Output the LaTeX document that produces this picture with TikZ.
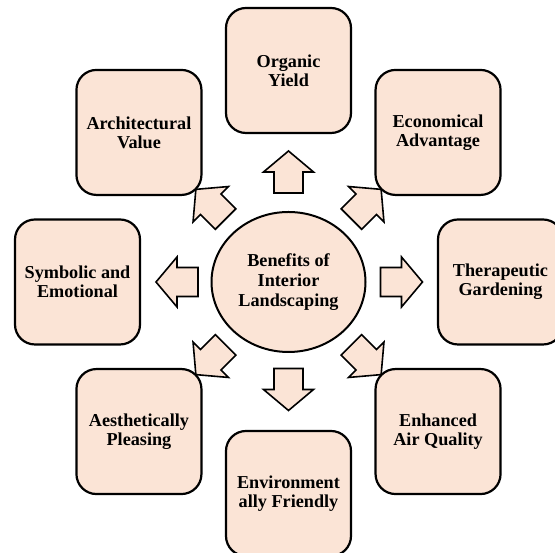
\documentclass[tikz,border=0pt]{standalone}
\usepackage{fontspec}
\setmainfont{Liberation Serif}
\usetikzlibrary{shapes.geometric,calc}
\definecolor{peach}{HTML}{FBE4D6}
\tikzset{
  benefit/.style={draw=black, line width=2.2pt, fill=peach, rounded corners=20pt,
    minimum width=125pt, minimum height=125pt, inner sep=0pt, align=center,
    font=\bfseries\fontsize{18.2}{19}\selectfont},
  hub/.style={draw=black, line width=2pt, fill=peach, ellipse,
    minimum width=154pt, minimum height=140pt, inner sep=0pt, align=center,
    font=\bfseries\fontsize{18.2}{20}\selectfont},
  blockarrow/.pic={
    \draw[line width=1.6pt, fill=peach, line join=miter]
      (-21,-14.5) -- (0,-14.5) -- (0,-25) -- (21,0) -- (0,25) -- (0,14.5) -- (-21,14.5) -- cycle;
  }
}
\begin{document}
\begin{tikzpicture}[x=1pt, y=1pt]
  \useasboundingbox (0,0) rectangle (555,553);
  \coordinate (C) at (288.5,271);
  \node[hub] (hub) at (C) {Benefits of\\Interior\\Landscaping};
  \node[benefit] (org) at ($(C)+(90:211.5)$) {Organic\\Yield};
  \node[benefit] (eco) at ($(C)+(45:211.5)$) {Economical\\Advantage};
  \node[benefit] (the) at ($(C)+(0:212)$) {Therapeutic\\Gardening};
  \node[benefit] (air) at ($(C)+(-45:211.5)$) {Enhanced\\Air Quality};
  \node[benefit] (env) at ($(C)+(-90:211.5)$) {Environment\\ally Friendly};
  \node[benefit] (aes) at ($(C)+(-135:211.5)$) {Aesthetically\\Pleasing};
  \node[benefit] (sym) at ($(C)+(180:211)$) {Symbolic and\\Emotional};
  \node[benefit] (arc) at ($(C)+(135:211.5)$) {Architectural\\Value};
  \foreach \a/\r in {90/110, 45/110, 0/113, -45/110, -90/107.5, -135/110, 180/111.5, 135/110}{
    \pic[rotate=\a] at ($(C)+(\a:\r)$) {blockarrow};
  }
\end{tikzpicture}
\end{document}
